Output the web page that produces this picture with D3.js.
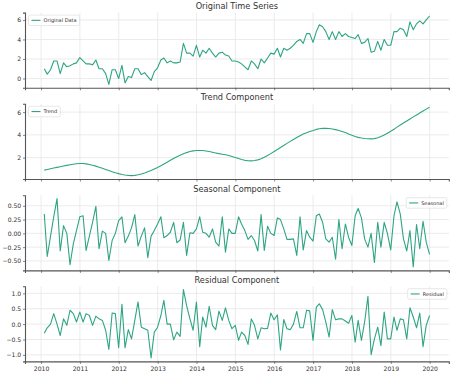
<!DOCTYPE html>
<html><head><meta charset="utf-8">
<script src="https://cdn.jsdelivr.net/npm/d3@7"></script>
<style>
html,body{margin:0;padding:0;background:#fff;}
svg{display:block;font-family:"DejaVu Sans",sans-serif;}
</style></head>
<body><svg id="chart" width="453" height="374"></svg>
<script>
// Monthly observations, month-end, Jan 2010 .. Dec 2019
const startYear = 2010, nMonths = 120;

const original = [1.0,0.45,0.9,1.8,1.8,0.5,1.6,1.2,1.3,1.5,1.6,2.15,
1.8,1.5,1.5,1.4,1.9,1.0,1.0,0.5,-0.6,0.9,0.9,0.0,
1.35,-0.45,0.2,0.1,1.0,1.0,0.4,0.6,0.2,-0.2,0.7,1.1,
1.9,2.1,1.6,1.8,1.6,1.6,1.7,3.6,2.6,2.6,2.3,3.4,
2.2,2.9,2.6,3.1,2.6,2.2,2.6,2.7,2.4,2.3,1.8,1.8,
1.7,1.5,1.2,0.9,1.8,1.5,1.0,2.0,1.6,2.1,2.6,2.5,
3.1,2.2,3.1,2.9,3.1,3.4,3.8,4.0,3.6,4.6,4.6,3.7,
4.8,5.5,5.3,4.8,4.0,4.8,4.0,4.8,4.3,4.6,4.3,4.2,
4.1,4.5,3.6,3.7,4.1,2.7,2.8,3.8,2.9,4.0,3.4,3.4,
4.8,4.8,5.15,5.0,4.3,5.8,5.0,5.6,5.9,5.6,6.0,6.4];

const trend = [0.90,0.96,1.02,1.08,1.14,1.20,1.26,1.32,1.37,1.42,1.46,1.48,
1.48,1.45,1.40,1.33,1.25,1.16,1.06,0.96,0.86,0.76,0.67,0.59,
0.52,0.47,0.44,0.42,0.44,0.49,0.56,0.65,0.75,0.86,0.99,1.13,
1.28,1.44,1.60,1.76,1.92,2.07,2.21,2.33,2.44,2.53,2.59,2.62,
2.63,2.62,2.58,2.53,2.47,2.41,2.35,2.30,2.25,2.18,2.10,2.01,
1.92,1.83,1.76,1.72,1.71,1.74,1.80,1.90,2.03,2.18,2.35,2.53,
2.71,2.89,3.07,3.25,3.43,3.60,3.77,3.93,4.07,4.19,4.29,4.38,
4.48,4.54,4.57,4.58,4.56,4.52,4.46,4.39,4.30,4.20,4.07,3.96,
3.86,3.78,3.72,3.68,3.66,3.65,3.67,3.74,3.85,3.99,4.15,4.32,
4.50,4.68,4.86,5.04,5.22,5.40,5.58,5.75,5.92,6.09,6.26,6.43];

const seasonal = [0.35,-0.42,-0.05,0.3,0.63,-0.32,0.14,0.0,-0.57,-0.19,0.05,0.3,
0.32,-0.31,-0.05,0.2,0.49,-0.28,0.04,0.0,-0.49,-0.13,0.0,0.23,
0.3,-0.17,-0.05,0.1,0.34,-0.23,-0.05,0.1,-0.44,-0.05,0.05,0.17,
0.3,-0.08,-0.04,0.02,0.2,-0.17,-0.12,0.2,-0.4,0.01,0.0,0.08,
0.3,0.02,0.0,-0.07,0.08,-0.16,-0.23,0.3,-0.34,0.08,0.0,0.0,
0.3,0.17,0.05,-0.11,-0.04,-0.13,-0.32,0.34,-0.31,0.13,0.0,-0.04,
0.28,0.25,0.08,-0.11,-0.11,-0.1,-0.4,0.3,-0.3,0.05,-0.07,-0.14,
0.32,0.35,0.2,-0.1,-0.16,-0.07,-0.47,0.25,-0.28,0.17,-0.07,-0.22,
0.32,0.45,0.28,-0.1,-0.25,0.0,-0.53,0.2,-0.25,0.2,0.0,-0.3,
0.32,0.57,0.35,-0.1,-0.32,0.05,-0.61,0.16,-0.28,0.22,-0.16,-0.38];

const residual = [-0.3,-0.12,0.0,0.34,0.0,-0.37,0.17,-0.04,0.45,0.34,0.07,0.39,
0.07,0.34,0.28,-0.04,0.26,0.17,0.12,-0.2,-0.82,0.36,0.34,-0.77,
0.64,-0.77,-0.18,-0.48,0.12,0.72,-0.1,-0.15,-0.2,-1.1,-0.26,-0.1,
0.28,0.77,0.0,0.0,-0.51,-0.26,-0.4,1.12,0.6,0.17,-0.2,0.72,
-0.73,0.23,-0.1,0.58,-0.04,-0.18,0.42,0.12,0.53,0.12,-0.15,-0.04,
-0.53,-0.26,-0.37,-0.66,0.17,-0.04,-0.48,-0.12,-0.15,-0.14,0.36,0.14,
0.3,-0.84,0.15,-0.15,-0.18,0.0,0.41,-0.12,-0.12,0.45,0.43,-0.53,
0.55,0.66,0.47,0.07,-0.42,0.47,0.14,0.17,0.17,0.1,0.03,0.28,
-0.59,0.12,-0.53,0.07,0.9,-0.99,-0.48,-0.1,-0.7,0.39,-0.48,-0.48,
0.23,-0.2,0.17,0.14,-0.48,0.53,0.23,-0.12,0.36,-0.73,-0.04,0.28];

const xTickYears = [2010,2011,2012,2013,2014,2015,2016,2017,2018,2019,2020];
const titles = ["Original Time Series","Trend Component","Seasonal Component","Residual Component"];
const legendLabels = ["Original Data","Trend","Seasonal","Residual"];
const yTicks = [[0,2,4,6],[2,4,6],[-0.5,-0.25,0,0.25,0.5],[-1,-0.5,0,0.5,1]];
const yTickFormats = [".0f",".0f",".2f",".1f"];
const legendSide = ["left","left","right","right"];

const dates = d3.range(nMonths).map(i => new Date(startYear, i + 1, 0));
const seriesList = [original, trend, seasonal, residual];

const svg = d3.select("#chart");
const lineColor = "#2ea583";
const left = 25, right = 448.8;
const tops = [12.6, 103.8, 195.2, 286.2];
const ph = 75.2;

// x scale with matplotlib-style 5% margin
const t0 = dates[0].getTime(), t1 = dates[nMonths-1].getTime();
const xm = (t1 - t0) * 0.05;
const x = d3.scaleTime().domain([new Date(t0 - xm), new Date(t1 + xm)]).range([left, right]);

const minus = s => s.replace("-", "\u2212");

seriesList.forEach((vals, k) => {
  const top = tops[k], bottom = top + ph;
  const [mn, mx] = d3.extent(vals);
  const m = (mx - mn) * 0.05;
  const y = d3.scaleLinear().domain([mn - m, mx + m]).range([bottom, top]);
  const g = svg.append("g");

  // grid
  g.selectAll(".vg").data(xTickYears).join("line")
    .attr("x1", d => x(new Date(d,0,1))).attr("x2", d => x(new Date(d,0,1)))
    .attr("y1", top).attr("y2", bottom)
    .attr("stroke", "#e6e6e6").attr("stroke-width", 0.8);
  g.selectAll(".hg").data(yTicks[k]).join("line")
    .attr("x1", left).attr("x2", right)
    .attr("y1", d => y(d)).attr("y2", d => y(d))
    .attr("stroke", "#e6e6e6").attr("stroke-width", 0.8);

  // x axis
  const xa = d3.axisBottom(x).tickValues(xTickYears.map(d => new Date(d,0,1)))
    .tickSize(2.5).tickPadding(2.5)
    .tickFormat(k === 3 ? d3.timeFormat("%Y") : () => "");
  const gx = g.append("g").attr("transform", `translate(0,${bottom})`).call(xa);
  gx.select(".domain").attr("stroke", "#555").attr("stroke-width", 1.1);
  gx.selectAll(".tick line").attr("stroke", "#555").attr("stroke-width", 0.7);
  gx.selectAll("text").attr("fill", "#333").style("font-size", "6.1px")
    .style("font-family", "DejaVu Sans");

  // y axis
  const fmt = d3.format(yTickFormats[k]);
  const ya = d3.axisLeft(y).tickValues(yTicks[k]).tickSize(2).tickPadding(1.8)
    .tickFormat(d => minus(fmt(d)));
  const gy = g.append("g").attr("transform", `translate(${left},0)`).call(ya);
  gy.select(".domain").attr("stroke", "#555").attr("stroke-width", 1.1);
  gy.selectAll(".tick line").attr("stroke", "#555").attr("stroke-width", 0.7);
  gy.selectAll("text").attr("fill", "#333").style("font-size", "6.1px")
    .style("font-family", "DejaVu Sans");

  // line
  g.append("path").datum(vals)
    .attr("fill", "none").attr("stroke", lineColor).attr("stroke-width", 1.1)
    .attr("stroke-linejoin", "round")
    .attr("d", d3.line().x((d,i) => x(dates[i])).y(d => y(d)));

  // title
  g.append("text").attr("x", (left + right)/2).attr("y", top - 3.4)
    .attr("text-anchor", "middle").attr("fill", "#333")
    .style("font-size", "8.2px").text(titles[k]);

  // legend
  const lg = g.append("g");
  const lt = lg.append("text").style("font-size", "5px").attr("fill", "#333").text(legendLabels[k]);
  const tw = lt.node().getComputedTextLength();
  const bw = tw + 18, bh = 10.5;
  const bx = legendSide[k] === "left" ? left + 3.5 : right - 2 - bw;
  const by = top + 2.5;
  lg.insert("rect", "text").attr("x", bx).attr("y", by).attr("width", bw).attr("height", bh)
    .attr("rx", 1.5).attr("fill", "#fff").attr("fill-opacity", 0.85)
    .attr("stroke", "#d8d8d8").attr("stroke-width", 0.6);
  lg.append("line").attr("x1", bx + 3).attr("x2", bx + 12)
    .attr("y1", by + bh/2).attr("y2", by + bh/2)
    .attr("stroke", lineColor).attr("stroke-width", 1.1);
  lt.attr("x", bx + 15).attr("y", by + bh/2 + 1.8);
});
</script></body></html>
